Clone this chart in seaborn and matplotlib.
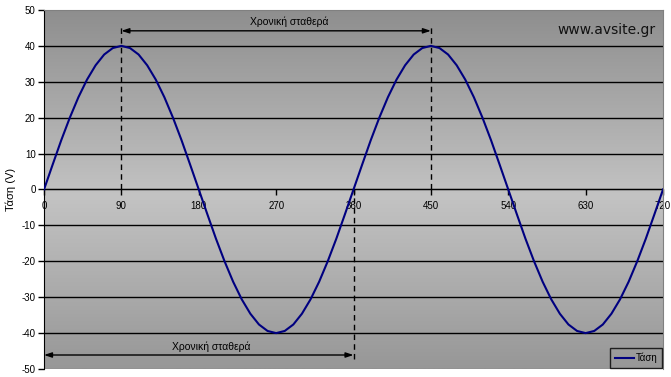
import numpy as np
import pandas as pd
import matplotlib
matplotlib.use("Agg")
import matplotlib.pyplot as plt
from matplotlib.colors import LinearSegmentedColormap
import seaborn as sns

# angle in degrees and voltage
angle = [0, 10, 20, 30, 40, 50, 60, 70, 80, 90, 100, 110, 120, 130, 140, 150, 160, 170,
         180, 190, 200, 210, 220, 230, 240, 250, 260, 270, 280, 290, 300, 310, 320, 330, 340, 350,
         360, 370, 380, 390, 400, 410, 420, 430, 440, 450, 460, 470, 480, 490, 500, 510, 520, 530,
         540, 550, 560, 570, 580, 590, 600, 610, 620, 630, 640, 650, 660, 670, 680, 690, 700, 710, 720]
voltage = [0.0, 6.9, 13.7, 20.0, 25.7, 30.6, 34.6, 37.6, 39.4, 40.0, 39.4, 37.6, 34.6, 30.6, 25.7, 20.0, 13.7, 6.9,
           0.0, -6.9, -13.7, -20.0, -25.7, -30.6, -34.6, -37.6, -39.4, -40.0, -39.4, -37.6, -34.6, -30.6, -25.7, -20.0, -13.7, -6.9,
           0.0, 6.9, 13.7, 20.0, 25.7, 30.6, 34.6, 37.6, 39.4, 40.0, 39.4, 37.6, 34.6, 30.6, 25.7, 20.0, 13.7, 6.9,
           0.0, -6.9, -13.7, -20.0, -25.7, -30.6, -34.6, -37.6, -39.4, -40.0, -39.4, -37.6, -34.6, -30.6, -25.7, -20.0, -13.7, -6.9,
           0.0]
x_ticks = [0, 90, 180, 270, 360, 450, 540, 630, 720]
y_ticks = [-50, -40, -30, -20, -10, 0, 10, 20, 30, 40, 50]
series_name = "Τάση"
span_label = "Χρονική σταθερά"

plt.rcParams['font.family'] = ['Liberation Sans', 'DejaVu Sans']
plt.rcParams['axes.unicode_minus'] = False

df = pd.DataFrame({'angle': angle, series_name: voltage})

fig = plt.figure(figsize=(6.71, 3.77), dpi=100)
ax = fig.add_axes([0.0656, 0.0212, 0.9225, 0.9523])

# gray gradient background, darker at top and bottom
cmap = LinearSegmentedColormap.from_list(
    'bg', [(0.0, '#8e8e8e'), (0.52, '#c3c3c3'), (1.0, '#979797')])
grad = np.linspace(0, 1, 256).reshape(-1, 1)
ax.imshow(grad, aspect='auto', cmap=cmap, extent=[0, 720, -50, 50], origin='upper', zorder=0)

for yv in y_ticks[1:-1]:
    ax.axhline(yv, color='black', lw=1, zorder=1)
ax.axhline(-50, color='#808080', lw=1, zorder=1)

sns.lineplot(data=df, x='angle', y=series_name, color='#000080', lw=1.5,
             label=series_name, ax=ax, zorder=4)

# dashed markers and time-constant arrows
ax.vlines([90, 450], 0, 45.6, colors='black', linestyles=(0, (4, 3)), lw=1, zorder=3)
ax.vlines([360], -47.2, 0, colors='black', linestyles=(0, (4, 3)), lw=1, zorder=3)
arrow = dict(arrowstyle='<|-|>,head_length=0.45,head_width=0.15', color='black', lw=1,
             shrinkA=0, shrinkB=0)
ax.annotate('', xy=(90, 44.2), xytext=(450, 44.2), arrowprops=arrow, zorder=3)
ax.annotate('', xy=(0, -46.1), xytext=(360, -46.1), arrowprops=arrow, zorder=3)
ax.text(285, 45.2, span_label, ha='center', va='bottom', fontsize=7.5)
ax.text(194, -45.2, span_label, ha='center', va='bottom', fontsize=7.5)
ax.text(0.988, 0.965, 'www.avsite.gr', transform=ax.transAxes, ha='right', va='top',
        fontsize=10, family='DejaVu Sans', color='#111111')

ax.set_xlim(0, 720)
ax.set_ylim(-50, 50)
ax.set_xticks(x_ticks)
ax.set_yticks(y_ticks)
ax.tick_params(axis='both', labelsize=7, length=4, width=1, color='black', pad=2)
ax.tick_params(axis='x', pad=4)
ax.set_xlabel('')
ax.set_ylabel('Τάση (V)', fontsize=8, labelpad=4)

ax.spines['bottom'].set_position(('data', 0))
ax.spines['bottom'].set_zorder(2)
for side in ['top', 'right']:
    ax.spines[side].set_color('#808080')
ax.spines['left'].set_color('black')

leg = ax.legend(loc='lower right', fontsize=7, frameon=True, fancybox=False,
                handlelength=2.0, borderpad=0.45, borderaxespad=0.15, handletextpad=0.15)
leg.get_frame().set_edgecolor('black')
leg.get_frame().set_facecolor('none')
leg.get_frame().set_linewidth(1)

fig.savefig('out.png', dpi=100)
